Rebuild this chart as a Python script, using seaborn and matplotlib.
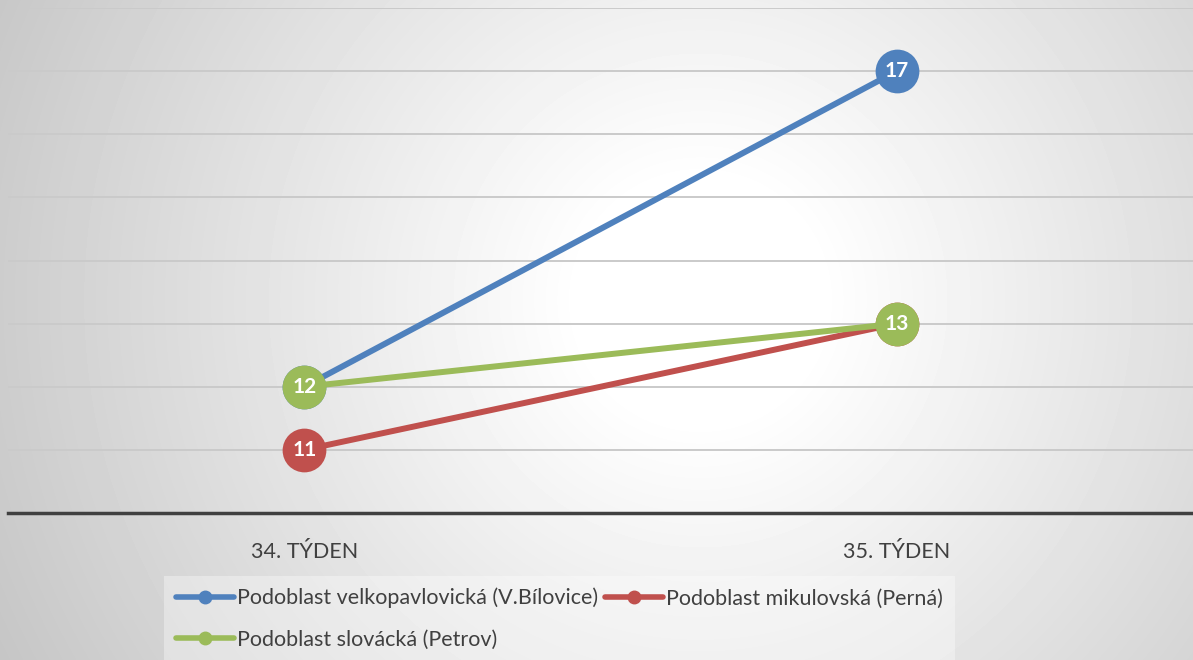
import numpy as np
import pandas as pd
import matplotlib
matplotlib.use("Agg")
import matplotlib.pyplot as plt
from matplotlib.lines import Line2D
import seaborn as sns

weeks = ["34. TÝDEN", "35. TÝDEN"]
series = ["Podoblast velkopavlovická (V.Bílovice)",
          "Podoblast mikulovská (Perná)",
          "Podoblast slovácká (Petrov)"]
velko = [12, 17]
mikul = [11, 13]
slov = [12, 13]
colors = ["#4F81BD", "#C0504D", "#9BBB59"]

df = pd.DataFrame({
    "week": weeks * 3,
    "series": np.repeat(series, 2),
    "value": velko + mikul + slov,
})
df["x"] = df["week"].map({w: i for i, w in enumerate(weeks)})

sns.set_style("white")
plt.rcParams["font.family"] = ["Lato", "DejaVu Sans"]

fig = plt.figure(figsize=(11.93, 6.6), dpi=100)

# radial gradient background
bg = fig.add_axes([0, 0, 1, 1], zorder=-10)
yy, xx = np.mgrid[0:660, 0:1193]
d = np.sqrt((xx - 700) ** 2 + (yy - 300) ** 2)
shade = 1.0 - 0.22 * np.clip((d - 120) / 650.0, 0, 1.1)
bg.imshow(shade, cmap="gray", vmin=0, vmax=1, aspect="auto", extent=[0, 1, 0, 1])
bg.axis("off")

ax = fig.add_axes([8 / 1193, 147 / 660, 1 - 8 / 1193, (513 - 8) / 660])
ax.patch.set_alpha(0)

sns.lineplot(data=df, x="x", y="value", hue="series", palette=colors,
             hue_order=series, linewidth=4.3, marker="o", markersize=31.5,
             markeredgewidth=0, legend=False, ax=ax, zorder=3)

for s, c in zip(series, colors):
    sub = df[df["series"] == s]
    for _, r in sub.iterrows():
        if s == series[0] and r["x"] == 0:
            continue
        if s == series[1] and r["x"] == 1:
            continue
        ax.text(r["x"], r["value"], str(r["value"]), color="white", ha="center",
                va="center", fontsize=15, fontweight="bold", zorder=5)

ax.set_xlim(-0.5, 1.5)
ax.set_ylim(10, 18)
ax.set_yticks(np.arange(10, 19))
ax.yaxis.grid(True, color="#cacaca", linewidth=1.4)
ax.set_axisbelow(True)
ax.set_yticklabels([])
ax.tick_params(axis="y", length=0)
ax.set_xticks(range(len(weeks)))
ax.set_xticklabels(weeks, fontsize=15.5, color="#404040")
ax.tick_params(axis="x", length=0, pad=21)
ax.set_xlabel("")
ax.set_ylabel("")
for sp in ["top", "right", "left"]:
    ax.spines[sp].set_visible(False)
ax.spines["bottom"].set_color("#404040")
ax.spines["bottom"].set_linewidth(2.5)

handles = [Line2D([0], [0], color=c, linewidth=4, marker="o", markersize=9)
           for c in colors]
order = [0, 2, 1]
leg = fig.legend([handles[i] for i in order], [series[i] for i in order],
                 loc="upper left", bbox_to_anchor=(164 / 1193, 1 - 576 / 660),
                 ncol=2, fontsize=15.5, frameon=True, handlelength=2.7,
                 handletextpad=0.15, columnspacing=0.3, borderpad=0.55,
                 labelspacing=1.0, fancybox=False, borderaxespad=0)
leg.get_frame().set_facecolor("white")
leg.get_frame().set_alpha(0.35)
leg.get_frame().set_linewidth(0)
for t in leg.get_texts():
    t.set_color("#404040")

fig.savefig("out.png", dpi=100)
